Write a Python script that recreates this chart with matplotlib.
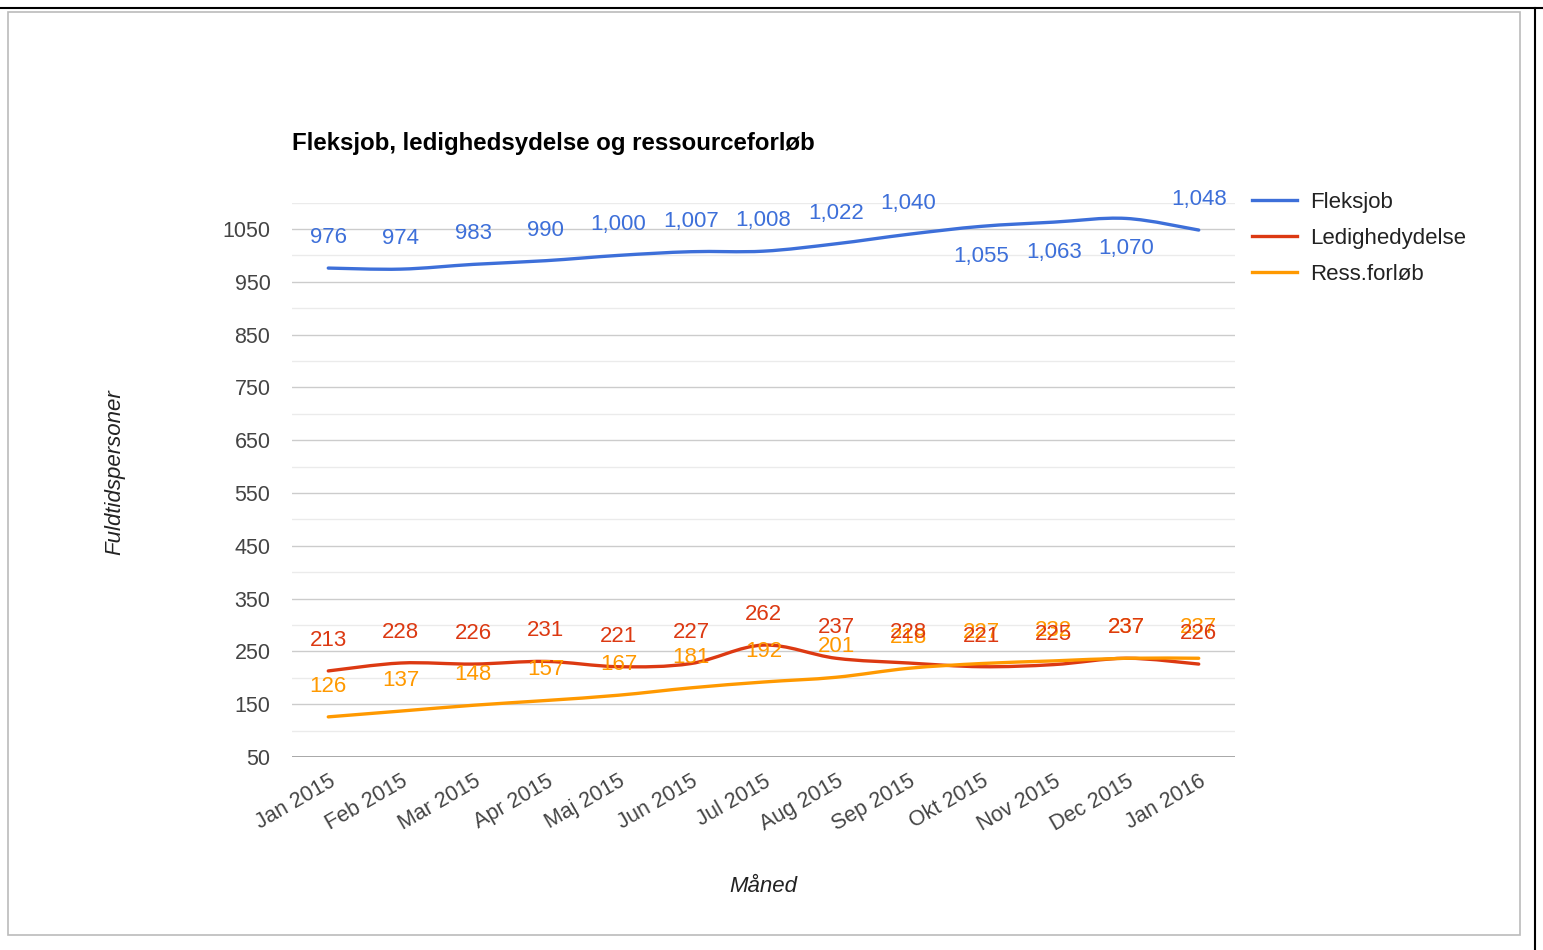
import numpy as np
import matplotlib.pyplot as plt
from matplotlib.path import Path
from matplotlib.patches import PathPatch, Rectangle
from matplotlib.lines import Line2D

plt.rcParams['font.family'] = ['Liberation Sans', 'DejaVu Sans']

months = ['Jan 2015', 'Feb 2015', 'Mar 2015', 'Apr 2015', 'Maj 2015', 'Jun 2015',
          'Jul 2015', 'Aug 2015', 'Sep 2015', 'Okt 2015', 'Nov 2015', 'Dec 2015', 'Jan 2016']
fleksjob = [976, 974, 983, 990, 1000, 1007, 1008, 1022, 1040, 1055, 1063, 1070, 1048]
ledighed = [213, 228, 226, 231, 221, 227, 262, 237, 228, 221, 225, 237, 226]
ressforl = [126, 137, 148, 157, 167, 181, 192, 201, 218, 227, 232, 237, 237]
yticks = [50, 150, 250, 350, 450, 550, 650, 750, 850, 950, 1050]

# label side per point: 1 = above, -1 = below
fleks_side = [1, 1, 1, 1, 1, 1, 1, 1, 1, -1, -1, -1, 1]

blue = '#3d6fd9'
red = '#dc3912'
orange = '#ff9900'


def smooth_path(x, y):
    # Catmull-Rom style bezier through the data points
    pts = np.column_stack([x, y]).astype(float)
    n = len(pts)
    verts = [pts[0]]
    codes = [Path.MOVETO]
    for i in range(n - 1):
        p0 = pts[max(i - 1, 0)]
        p1 = pts[i]
        p2 = pts[i + 1]
        p3 = pts[min(i + 2, n - 1)]
        c1 = p1 + (p2 - p0) / 6.0
        c2 = p2 - (p3 - p1) / 6.0
        verts += [c1, c2, p2]
        codes += [Path.CURVE4] * 3
    return Path(verts, codes)


fig = plt.figure(figsize=(15.43, 9.5), dpi=100)
ax = fig.add_axes([292 / 1543, 193 / 950, 943 / 1543, 554.4 / 950])

x = np.arange(len(months))
ax.set_xlim(-0.5, len(months) - 0.5)
ax.set_ylim(50, 1100)

# grid
for v in range(100, 1101, 50):
    major = (v - 50) % 100 == 0
    ax.axhline(v, color='#cccccc' if major else '#ebebeb', lw=1, zorder=0)
ax.axhline(50, color='#999999', lw=1.2, zorder=1)

series = [(fleksjob, blue, 'Fleksjob'), (ledighed, red, 'Ledighedydelse'),
          (ressforl, orange, 'Ress.forløb')]
handles = []
for vals, col, name in series:
    ax.add_patch(PathPatch(smooth_path(x, vals), fill=False, edgecolor=col, lw=2.4,
                           capstyle='round', joinstyle='round', zorder=3))
    handles.append(Line2D([], [], color=col, lw=2.4, label=name))

for vals, col, sides in [(ressforl, orange, [1] * 13), (ledighed, red, [1] * 13),
                         (fleksjob, blue, fleks_side)]:
    for i, v in enumerate(vals):
        ax.annotate(f'{v:,}', (x[i], v), xytext=(0, 22 * sides[i]), textcoords='offset points',
                    ha='center', va='center', fontsize=16, color=col, zorder=4)

ax.set_yticks(yticks)
ax.set_yticklabels([str(t) for t in yticks])
ax.set_xticks(x)
ax.set_xticklabels(months, rotation=30, ha='right', rotation_mode='anchor')
ax.tick_params(axis='both', length=0, labelsize=15.5, labelcolor='#444444')
ax.tick_params(axis='y', pad=15.5)
ax.tick_params(axis='x', pad=10)
for s in ax.spines.values():
    s.set_visible(False)

ax.set_title('Fleksjob, ledighedsydelse og ressourceforløb', loc='left', fontsize=17.3,
             fontweight='bold', color='#000000', pad=38)
fig.text(115 / 1543, 1 - 472 / 950, 'Fuldtidspersoner', rotation=90, style='italic',
         fontsize=16, color='#222222', ha='center', va='center')
fig.text(763 / 1543, 1 - 886 / 950, 'Måned', style='italic', fontsize=16,
         color='#222222', ha='center', va='center')

ax.legend(handles=handles, loc='upper left', bbox_to_anchor=(0.997, 1.056), frameon=False,
          fontsize=16, handlelength=2.0, handletextpad=0.6, labelspacing=0.69,
          labelcolor='#222222')

# frame around the chart
fig.patches.append(Rectangle((8 / 1543, 15 / 950), 1512 / 1543, 923 / 950, transform=fig.transFigure,
                             fill=False, edgecolor='#bbbbbb', lw=1.2))
fig.add_artist(Line2D([0, 1], [1 - 8 / 950, 1 - 8 / 950], transform=fig.transFigure,
                      color='black', lw=1.5))
fig.add_artist(Line2D([1535 / 1543, 1535 / 1543], [0, 1 - 8 / 950], transform=fig.transFigure,
                      color='black', lw=1.5))

fig.savefig('out.png', dpi=100)
